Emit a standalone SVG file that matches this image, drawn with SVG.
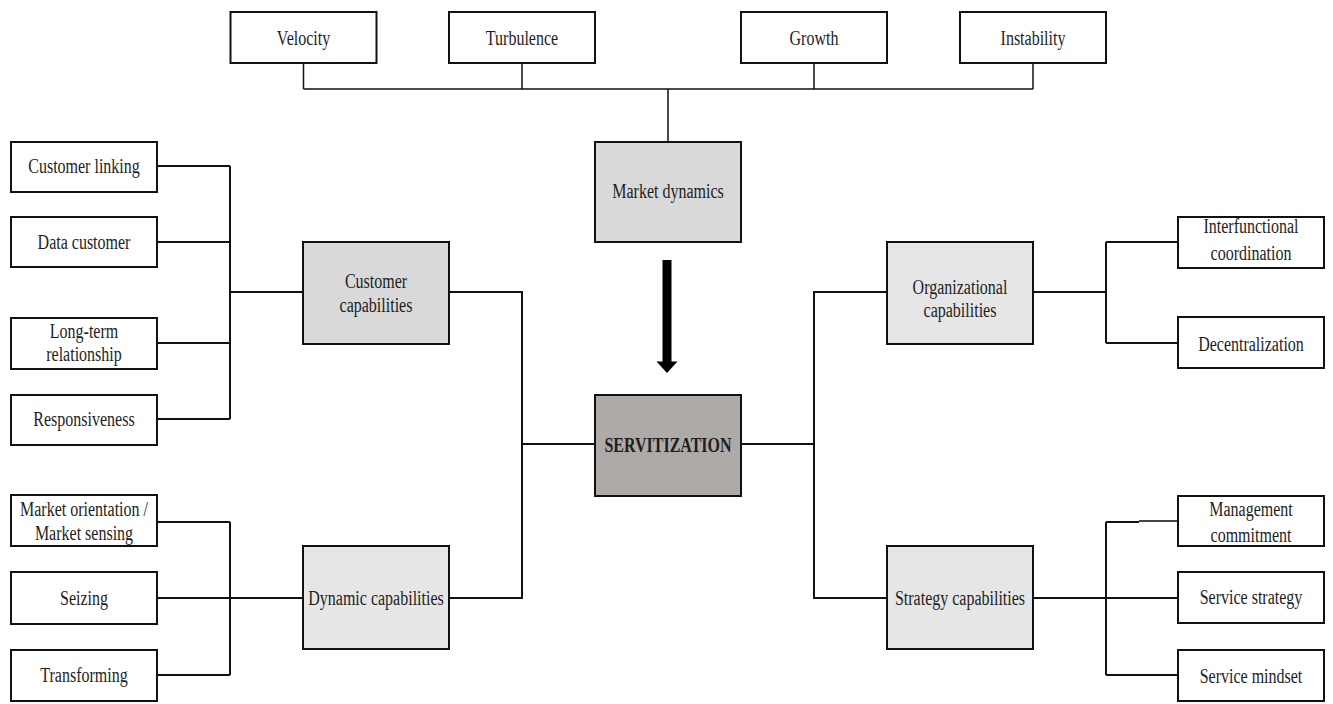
<svg xmlns="http://www.w3.org/2000/svg" width="1333" height="704" viewBox="0 0 1333 704">
  <style>
    .box { fill: #ffffff; stroke: #111111; stroke-width: 2; }
    .mid { fill: #d9d9d9; stroke: #111111; stroke-width: 2; }
    .pale { fill: #e6e6e6; stroke: #111111; stroke-width: 2; }
    .core { fill: #aeaaa8; stroke: #111111; stroke-width: 2; }
    .t { font-family: "Liberation Serif", "Times New Roman", serif; font-size: 20px; fill: #1e1e1e; text-anchor: middle; }
    .b { font-weight: bold; }
    .wire { fill: none; stroke: #111111; stroke-width: 2; }
    .stem { fill: none; stroke: #111111; stroke-width: 1.5; }
  </style>
  <rect width="1333" height="704" fill="#ffffff"/>

  <!-- connectors -->
  <g id="connectors">
    <!-- market dynamics bus -->
    <path class="stem" d="M303.5,63 V89 M522,63 V89 M814,63 V89 M1033,63 V89 M303.5,89 H1033 M668,89 V142"/>
    <!-- customer capability items -->
    <path class="wire" d="M157,166 H230 M157,242 H230 M157,343 H230 M157,419 H230 M230,166 V419 M230,292 H303"/>
    <!-- left spine into servitization -->
    <path class="wire" d="M449,292 H522 V598 H449 M522,444 H595"/>
    <!-- dynamic capability items -->
    <path class="wire" d="M157,522 H230 M157,598 H303 M157,675 H230 M230,522 V675"/>
    <!-- right spine -->
    <path class="wire" d="M741,444 H814 M887,292 H814 V598 H887"/>
    <!-- organizational capability items -->
    <path class="wire" d="M1033,292 H1106 M1106,242 V343 M1106,242 H1178 M1106,343 H1178"/>
    <!-- strategy capability items -->
    <path class="wire" d="M1033,598 H1178 M1106,522 V675 M1106,522 H1139 M1106,675 H1178"/>
    <path d="M1139,521 H1178" fill="none" stroke="#444444" stroke-width="2"/>
    <!-- market dynamics influence arrow -->
    <rect x="662.5" y="260" width="9" height="102" fill="#000000"/>
    <polygon points="656.5,361.5 677.5,361.5 667,373" fill="#000000"/>
  </g>

  <!-- market dynamics factors -->
  <g id="velocity"><rect class="box" x="230.5" y="12" width="146" height="51"/><text class="t" transform="translate(303.5 45) scale(0.8 1)">Velocity</text></g>
  <g id="turbulence"><rect class="box" x="449" y="12" width="146" height="51"/><text class="t" transform="translate(522 45) scale(0.8 1)">Turbulence</text></g>
  <g id="growth"><rect class="box" x="741" y="12" width="146" height="51"/><text class="t" transform="translate(814 45) scale(0.8 1)">Growth</text></g>
  <g id="instability"><rect class="box" x="960" y="12" width="146" height="51"/><text class="t" transform="translate(1033 45) scale(0.8 1)">Instability</text></g>

  <!-- central column -->
  <g id="market-dynamics"><rect class="mid" x="595" y="142" width="146" height="100"/><text class="t" transform="translate(668 198) scale(0.8 1)">Market dynamics</text></g>
  <g id="servitization"><rect class="core" x="595" y="395" width="146" height="101"/><text class="t b" transform="translate(668 452) scale(0.8 1)">SERVITIZATION</text></g>

  <!-- capability groups -->
  <g id="customer-capabilities"><rect class="mid" x="303" y="242" width="146" height="102"/>
    <text class="t" transform="translate(376 288) scale(0.8 1)">Customer</text>
    <text class="t" transform="translate(376 312) scale(0.8 1)">capabilities</text></g>
  <g id="dynamic-capabilities"><rect class="pale" x="303" y="546" width="146" height="103"/><text class="t" transform="translate(376 605) scale(0.8 1)">Dynamic capabilities</text></g>
  <g id="organizational-capabilities"><rect class="pale" x="887" y="242" width="146" height="102"/>
    <text class="t" transform="translate(960 294) scale(0.8 1)">Organizational</text>
    <text class="t" transform="translate(960 317) scale(0.8 1)">capabilities</text></g>
  <g id="strategy-capabilities"><rect class="pale" x="887" y="546" width="146" height="103"/><text class="t" transform="translate(960 605) scale(0.8 1)">Strategy capabilities</text></g>

  <!-- customer capability items -->
  <g id="customer-linking"><rect class="box" x="11" y="142" width="146" height="50"/><text class="t" transform="translate(84 173) scale(0.8 1)">Customer linking</text></g>
  <g id="data-customer"><rect class="box" x="11" y="217" width="146" height="50"/><text class="t" transform="translate(84 249) scale(0.8 1)">Data customer</text></g>
  <g id="long-term-relationship"><rect class="box" x="11" y="318" width="146" height="51"/>
    <text class="t" transform="translate(84 338) scale(0.8 1)">Long-term</text>
    <text class="t" transform="translate(84 361) scale(0.8 1)">relationship</text></g>
  <g id="responsiveness"><rect class="box" x="11" y="395" width="146" height="50"/><text class="t" transform="translate(84 426) scale(0.8 1)">Responsiveness</text></g>

  <!-- dynamic capability items -->
  <g id="market-orientation"><rect class="box" x="11" y="495" width="146" height="51"/>
    <text class="t" transform="translate(84 516) scale(0.8 1)">Market orientation /</text>
    <text class="t" transform="translate(84 540) scale(0.8 1)">Market sensing</text></g>
  <g id="seizing"><rect class="box" x="11" y="572" width="146" height="52"/><text class="t" transform="translate(84 605) scale(0.8 1)">Seizing</text></g>
  <g id="transforming"><rect class="box" x="11" y="650" width="146" height="51"/><text class="t" transform="translate(84 682) scale(0.8 1)">Transforming</text></g>

  <!-- organizational capability items -->
  <g id="interfunctional-coordination"><rect class="box" x="1178" y="217" width="146" height="51"/>
    <text class="t" transform="translate(1251 233) scale(0.8 1)">Interfunctional</text>
    <text class="t" transform="translate(1251 260) scale(0.8 1)">coordination</text></g>
  <g id="decentralization"><rect class="box" x="1178" y="317" width="146" height="51"/><text class="t" transform="translate(1251 351) scale(0.8 1)">Decentralization</text></g>

  <!-- strategy capability items -->
  <g id="management-commitment"><rect class="box" x="1178" y="496" width="146" height="50"/>
    <text class="t" transform="translate(1251 516) scale(0.8 1)">Management</text>
    <text class="t" transform="translate(1251 542) scale(0.8 1)">commitment</text></g>
  <g id="service-strategy"><rect class="box" x="1178" y="572" width="146" height="51"/><text class="t" transform="translate(1251 604) scale(0.8 1)">Service strategy</text></g>
  <g id="service-mindset"><rect class="box" x="1178" y="650" width="146" height="51"/><text class="t" transform="translate(1251 683) scale(0.8 1)">Service mindset</text></g>
</svg>
